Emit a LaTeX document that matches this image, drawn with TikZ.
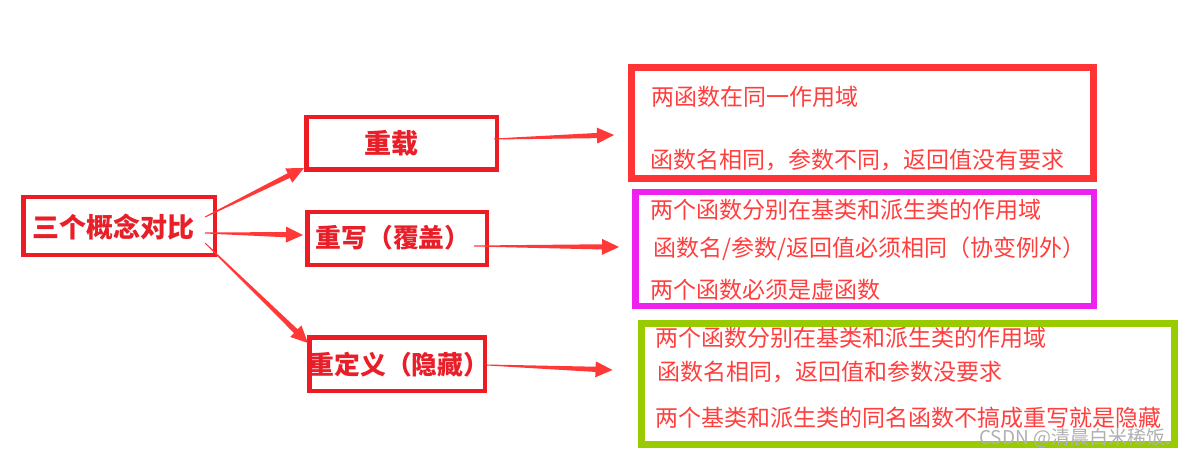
\documentclass[tikz,border=0pt]{standalone}
\usepackage{fontspec}
\newfontfamily\cjk{Noto Sans CJK SC}
\usetikzlibrary{calc}
\definecolor{boxred}{HTML}{ED1C24}
\definecolor{lblred}{HTML}{E81E28}
\definecolor{rOne}{HTML}{FF3535}
\definecolor{txtred}{HTML}{FF3E3E}
\definecolor{magbox}{HTML}{EE22EE}
\definecolor{grnbox}{HTML}{99CC00}
\definecolor{arrcol}{HTML}{FF3838}
\definecolor{wmgray}{HTML}{B0B0B0}
\tikzset{
  leftbox/.style={draw=boxred, line width=4.5pt, rectangle, inner sep=0pt},
  rightbox/.style={rectangle, inner sep=0pt, line width=7pt},
  lbl/.style={font=\cjk\bfseries\fontsize{27}{31}\selectfont, text=lblred, inner sep=0pt},
  lblsm/.style={lbl, font=\cjk\bfseries\fontsize{25.8}{30}\selectfont},
  itemtxt/.style={font=\cjk\fontsize{23}{27}\selectfont, text=txtred, inner sep=0pt, anchor=west},
  wmark/.style={font=\cjk\fontsize{19}{22}\selectfont, text=wmgray, inner sep=0pt, anchor=west},
}
\newcommand\taparrow[2]{%
  \path (#1) coordinate (tA) (#2) coordinate (tB);
  \path ($(tB)!17pt!(tA)$) coordinate (tH);
  \fill[arrcol] ($(tA)!0.5pt!90:(tB)$) -- ($(tH)!2.6pt!90:(tB)$) -- ($(tH)!8pt!90:(tB)$) -- (tB)
     -- ($(tH)!8pt!-90:(tB)$) -- ($(tH)!2.6pt!-90:(tB)$) -- ($(tA)!0.5pt!-90:(tB)$) -- cycle;}
\begin{document}
\begin{tikzpicture}[x=1pt,y=-1pt]
\useasboundingbox[fill=white] (0,0) rectangle (1191,457);

% left boxes
\node[leftbox, minimum width=191.5pt, minimum height=57.5pt] (c) at (119,226) {};
\node[lbl] (ct) at (113,227) {三个概念对比};
\node[leftbox, minimum width=190.5pt, minimum height=52.5pt] (b1) at (401.5,143.5) {};
\node[lbl] (b1t) at (391.5,143) {重载};
\node[leftbox, minimum width=179.5pt, minimum height=52.5pt] (b2) at (397,238.5) {};
\node[lblsm] (b2t) at (393,238) {重写（覆盖）};
\node[leftbox, minimum width=175.5pt, minimum height=53.5pt] (b3) at (397,364) {};
\node[lblsm] (b3t) at (399,365) {重定义（隐藏）};

% right boxes
\node[rightbox, draw=rOne, minimum width=462pt, minimum height=111pt] (r1) at (862.5,123) {};
\node[rightbox, draw=magbox, line width=6.5pt, minimum width=458.5pt, minimum height=113.5pt] (r2) at (864.5,249) {};
\node[rightbox, draw=grnbox, minimum width=533pt, minimum height=121pt] (r3) at (908,384) {};

\node[itemtxt] (r1a) at (651,97) {两函数在同一作用域};
\node[itemtxt] (r1b) at (650,160) {函数名相同，参数不同，返回值没有要求};
\node[itemtxt] (r2a) at (650,210) {两个函数分别在基类和派生类的作用域};
\node[itemtxt] (r2b) at (653,249) {函数名/参数/返回值必须相同（协变例外）};
\node[itemtxt] (r2c) at (650,290) {两个函数必须是虚函数};
\node[itemtxt] (r3a) at (655,338) {两个函数分别在基类和派生类的作用域};
\node[itemtxt] (r3b) at (657,372) {函数名相同，返回值和参数没要求};
\node[itemtxt] (r3c) at (655,418) {两个基类和派生类的同名函数不搞成重写就是隐藏};
\node[wmark] (wm) at (979,438) {CSDN @清晨白米稀饭.};

% connector end points
\coordinate (a1s) at ($(c.east)+(-12,-9)$);
\coordinate (a1e) at ($(b1.south west)+(0,-4)$);
\coordinate (a2s) at ($(c.east)+(-12,7)$);
\coordinate (a2e) at ($(b2.west)+(-2,-3.5)$);
\coordinate (a3s) at ($(c.east)+(-12,17)$);
\coordinate (a3e) at ($(b3.north west)+(1,8)$);
\coordinate (c1s) at ($(b1.east)+(-5,-4.5)$);
\coordinate (c1e) at ($(r1.west)+(-14,12)$);
\coordinate (c2s) at ($(b2.east)+(-15,7.5)$);
\coordinate (c2e) at ($(r2.west)+(-13,-2)$);
\coordinate (c3s) at ($(b3.east)+(0,1)$);
\coordinate (c3e) at ($(r3.west)+(-25.5,-14)$);

\taparrow{a1s}{a1e}
\taparrow{a2s}{a2e}
\taparrow{a3s}{a3e}
\taparrow{c1s}{c1e}
\taparrow{c2s}{c2e}
\taparrow{c3s}{c3e}
\end{tikzpicture}
\end{document}
